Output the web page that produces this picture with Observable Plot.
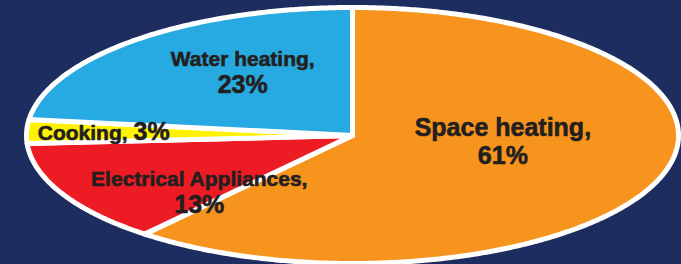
<!DOCTYPE html>
<html>
<head>
<meta charset="utf-8">
<script src="https://cdn.jsdelivr.net/npm/d3@7"></script>
<script src="https://cdn.jsdelivr.net/npm/@observablehq/plot@0.6"></script>
<style>
  html, body { margin: 0; padding: 0; background: #1e2d5f; }
  #chart svg { display: block; }
</style>
</head>
<body>
<div id="chart"></div>
<script>
// ---- data ----
const categories = ["Space heating", "Electrical Appliances", "Cooking", "Water heating"];
const shares = [61, 13, 3, 23];
const colors = ["#f7941d", "#ed1c24", "#fff200", "#27aae1"];

// ---- label layout (pixel offsets from each slice centroid, not data) ----
const labelOffsets = {
  "Space heating": [-3, -21],
  "Electrical Appliances": [-8, 21],
  "Cooking": [-59, 7],
  "Water heating": [-2, -21]
};
const inlineLabels = new Set(["Cooking"]);
const largeNames = new Set(["Space heating"]);

const W = 681, H = 264;
const xRange = [26, 678], yRange = [7, 263];
const rxPx = (xRange[1] - xRange[0]) / 2, ryPx = (yRange[1] - yRange[0]) / 2;

const data = categories.map((c, i) => ({category: c, share: shares[i]}));
const arcs = d3.pie().sort(null).value(d => d.share).startAngle(0).endAngle(2 * Math.PI)(data);

// slice outlines (geometry derived from the pie layout)
const points = [];
for (const a of arcs) {
  const cat = a.data.category;
  const n = Math.max(2, Math.ceil((a.endAngle - a.startAngle) / (Math.PI / 360)));
  points.push({x: 0, y: 0, category: cat});
  for (let i = 0; i <= n; i++) {
    const t = a.startAngle + (a.endAngle - a.startAngle) * i / n;
    points.push({x: Math.sin(t), y: -Math.cos(t), category: cat});
  }
  points.push({x: 0, y: 0, category: cat});
}

// label anchors from centroids
const labels = arcs.map(a => {
  const mid = (a.startAngle + a.endAngle) / 2;
  const [dx, dy] = labelOffsets[a.data.category];
  return {
    category: a.data.category,
    name: a.data.category + ",",
    pct: a.data.share + "%",
    x: 0.5 * Math.sin(mid) + dx / rxPx,
    y: -0.5 * Math.cos(mid) + dy / ryPx
  };
});
const stackedLarge = labels.filter(d => !inlineLabels.has(d.category) && largeNames.has(d.category));
const stackedSmall = labels.filter(d => !inlineLabels.has(d.category) && !largeNames.has(d.category));
const inline = labels.filter(d => inlineLabels.has(d.category));

const font = "'Liberation Sans', Arial, sans-serif";
const ink = "#231f20";
const common = {fill: ink, stroke: ink, strokeWidth: 0.6, fontWeight: "bold", fontFamily: font, lineAnchor: "bottom"};

const chart = Plot.plot({
  width: W,
  height: H,
  margin: 0,
  axis: null,
  x: {domain: [-1, 1], range: xRange},
  y: {domain: [-1, 1], range: yRange},
  color: {domain: categories, range: colors},
  style: {background: "#1e2d5f", overflow: "visible"},
  marks: [
    Plot.line(points, {x: "x", y: "y", z: "category", fill: "category", stroke: "white", strokeWidth: 5, strokeLinejoin: "round"}),
    Plot.text(stackedLarge, {x: "x", y: "y", text: "name", fontSize: 25, ...common}),
    Plot.text(stackedLarge, {x: "x", y: "y", text: "pct", fontSize: 25, dy: 28, ...common}),
    Plot.text(stackedSmall, {x: "x", y: "y", text: "name", fontSize: 21, ...common}),
    Plot.text(stackedSmall, {x: "x", y: "y", text: "pct", fontSize: 25, dy: 27, ...common}),
    Plot.text(inline, {x: "x", y: "y", text: "name", fontSize: 21, textAnchor: "end", dx: -3, ...common}),
    Plot.text(inline, {x: "x", y: "y", text: "pct", fontSize: 25, textAnchor: "start", dx: 3, ...common})
  ]
});
document.getElementById("chart").appendChild(chart);
</script>
</body>
</html>
